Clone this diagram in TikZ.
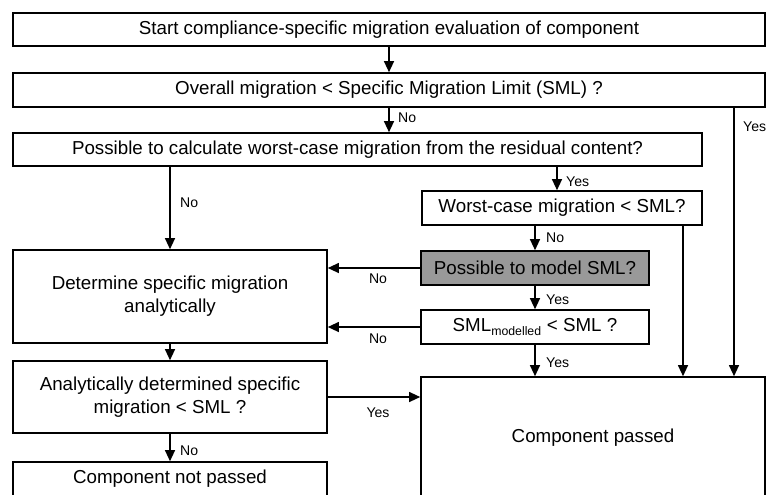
\documentclass[tikz,border=0pt]{standalone}
\usepackage{fontspec}
\setmainfont{Liberation Sans}
\usetikzlibrary{arrows.meta}
\definecolor{mGray}{gray}{0.6}
\tikzset{box/.style={rectangle, draw, line width=1.3pt, inner sep=0pt,
  align=center, font=\fontsize{16}{19.5}\selectfont}}
\tikzset{gbox/.style={box, fill=mGray}}
\tikzset{arr/.style={draw, line width=1.3pt, -{Triangle[width=8.5pt,length=9.5pt]}}}
\tikzset{lbl/.style={font=\fontsize{12}{14}\selectfont, inner sep=0pt}}

\begin{document}
\begin{tikzpicture}[x=0.03cm, y=-0.03cm]
        \useasboundingbox (0,0) rectangle (767,494);
        \clip (0,0) rectangle (767,494);
        %% boxes
        \node (st) at (389,29.5) [box, minimum width=22.56cm, minimum height=0.99cm]
            {Start compliance-specific migration evaluation of component};
        \node (om) at (389,90) [box, minimum width=22.56cm, minimum height=1.02cm]
            {Overall migration < Specific Migration Limit (SML) ?};
        \node (pc) at (357.5,149.5) [box, minimum width=20.67cm, minimum height=0.99cm]
            {Possible to calculate worst-case migration from the residual content?};
        \node (wc) at (562,208) [box, minimum width=8.4cm, minimum height=1.02cm]
            {Worst-case migration < SML?};
        \node (pm) at (535,268) [gbox, minimum width=6.84cm, minimum height=1.02cm]
            {Possible to model SML?};
        \node (sm) at (535,327) [box, minimum width=6.84cm, minimum height=1.02cm]
            {SML$_{\mbox{\fontsize{10.5}{12}\selectfont modelled}}$ < SML ?};
        \node (da) at (170,296.5) [box, minimum width=9.42cm, minimum height=2.79cm]
            {Determine specific migration\\analytically};
        \node (ad) at (170,397) [box, minimum width=9.42cm, minimum height=2.16cm]
            {Analytically determined specific\\migration < SML ?};
        \node (np) at (170,479) [box, minimum width=9.42cm, minimum height=1.02cm]
            {Component not passed};
        \node (cp) at (593,438) [box, minimum width=10.32cm, minimum height=3.66cm]
            {Component passed};
        %% free ends
        \coordinate (omY) at (734,107);
        \coordinate (pcY) at (557,166);
        \coordinate (wcY) at (683,225);
        %% connectors
        \draw [arr] (st) to (om);
        \draw [arr] (om.south) to (om.south |- pc.north);
        \draw [arr] (omY) to (omY |- cp.north);
        \draw [arr] (pcY) to (pcY |- wc.north);
        \draw [arr] (pc.south -| da.north) to (da.north);
        \draw [arr] (wc.south -| pm.north) to (pm.north);
        \draw [arr] (wcY) to (wcY |- cp.north);
        \draw [arr] (pm.west) to (pm.west -| da.east);
        \draw [arr] (pm) to (sm);
        \draw [arr] (sm.west) to (sm.west -| da.east);
        \draw [arr] (sm.south) to (sm.south |- cp.north);
        \draw [arr] (da) to (ad);
        \draw [arr] (ad.east) to (ad.east -| cp.west);
        \draw [arr] (ad) to (np);
        %% labels
        \node (l1) at (398,118) [lbl, anchor=west] {No};
        \node (l2) at (743,127) [lbl, anchor=west] {Yes};
        \node (l3) at (180,203) [lbl, anchor=west] {No};
        \node (l4) at (566,182) [lbl, anchor=west] {Yes};
        \node (l5) at (546,238) [lbl, anchor=west] {No};
        \node (l6) at (378,279) [lbl] {No};
        \node (l7) at (546,300) [lbl, anchor=west] {Yes};
        \node (l8) at (378,339) [lbl] {No};
        \node (l9) at (546,363) [lbl, anchor=west] {Yes};
        \node (l10) at (378,413) [lbl] {Yes};
        \node (l11) at (180,451) [lbl, anchor=west] {No};
\end{tikzpicture}
\end{document}
